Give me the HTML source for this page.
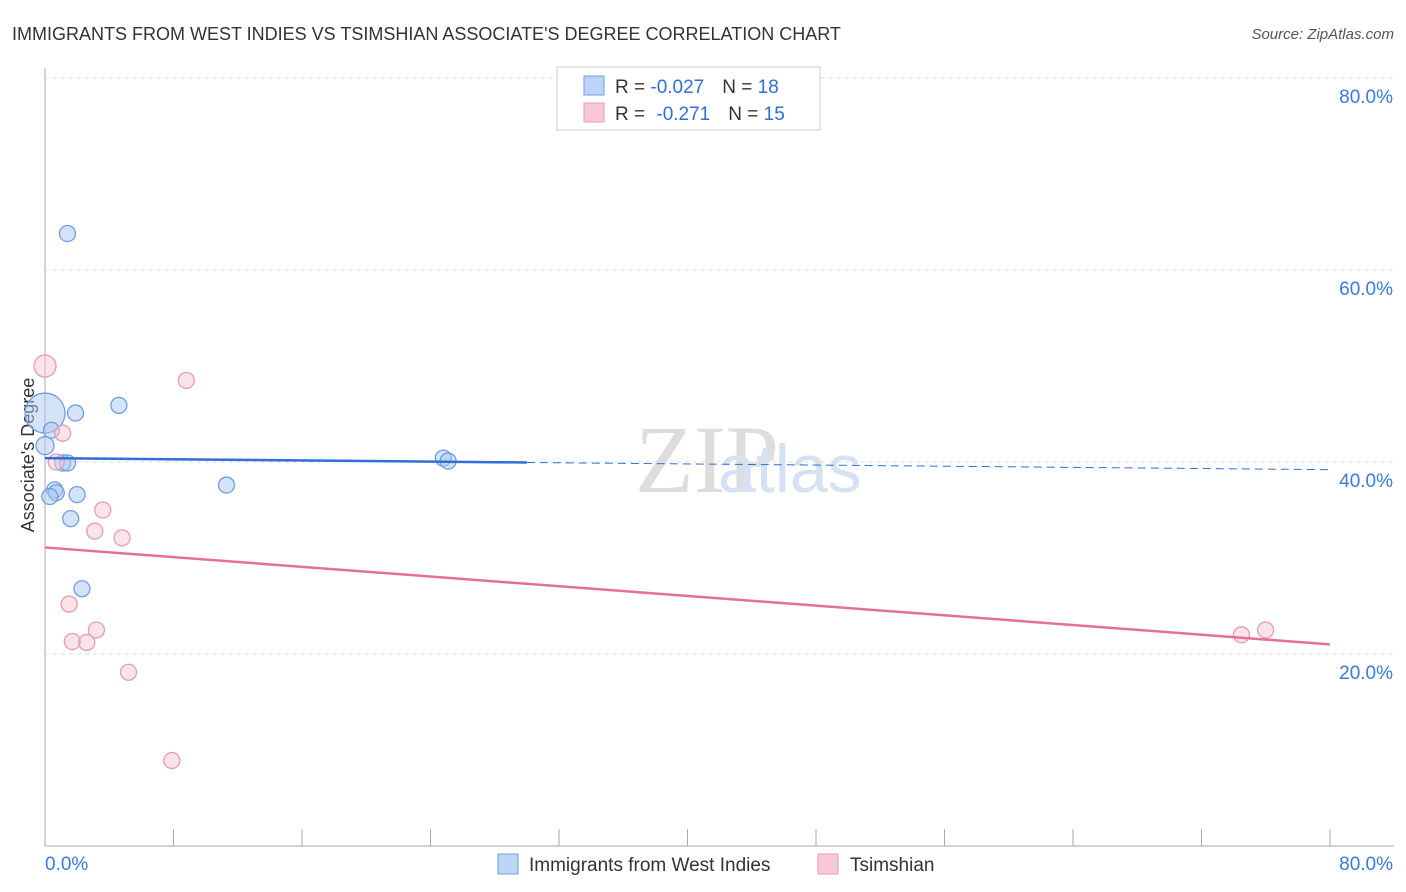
<!DOCTYPE html>
<html><head><meta charset="utf-8"><style>
body{margin:0;background:#fff;font-family:"Liberation Sans",sans-serif}
#wrap{position:relative;width:1406px;height:892px;overflow:hidden}
</style></head><body><div id="wrap">
<svg id="svg" width="1406" height="892" xmlns="http://www.w3.org/2000/svg">
<text x="12" y="40" font-size="18" fill="#333">IMMIGRANTS FROM WEST INDIES VS TSIMSHIAN ASSOCIATE'S DEGREE CORRELATION CHART</text>
<text x="1394" y="39" font-size="15" fill="#555" font-style="italic" text-anchor="end">Source: ZipAtlas.com</text>
<text x="635" y="492" font-size="96" fill="#ddd" font-family="Liberation Serif">ZIP</text>
<text x="718" y="492" font-size="68" fill="#d4e2f4">atlas</text>
<text transform="translate(34,455) rotate(-90)" font-size="18" fill="#333" text-anchor="middle">Associate's Degree</text>
<g id="grid"></g><g id="marks"></g>
<g>
<rect x="557" y="67" width="263" height="63" fill="#fff" stroke="#ccc"/>
<rect x="584" y="76" width="20" height="19" fill="#bcd4f5" stroke="#6f9fe0"/>
<rect x="584" y="103" width="20" height="19" fill="#f8c8d6" stroke="#e89ab2"/>
<text x="615" y="93" font-size="19" fill="#333">R = <tspan fill="#2f6fd6">-0.027</tspan><tspan dx="18">N = </tspan><tspan fill="#2f6fd6">18</tspan></text>
<text x="615" y="120" font-size="19" fill="#333">R = <tspan dx="6" fill="#2f6fd6">-0.271</tspan><tspan dx="18">N = </tspan><tspan fill="#2f6fd6">15</tspan></text>
</g>
<g>
<rect x="498" y="854" width="20" height="20" fill="#bcd4f5" stroke="#6f9fe0"/>
<text x="529" y="871" font-size="19" fill="#333">Immigrants from West Indies</text>
<rect x="818" y="854" width="20" height="20" fill="#f8c8d6" stroke="#e89ab2"/>
<text x="850" y="871" font-size="19" fill="#333">Tsimshian</text>
</g>
</svg></div>
<script>
const yTicks=[20,40,60,80];
const xTickLabels=["0.0%","80.0%"];
const blueX=[1.4,4.6,1.9,0,0.4,0,1.1,1.4,0.6,0.7,0.3,2,1.6,2.3,11.3,24.8,25.1];
const blueY=[63.8,45.9,45.1,45.1,43.3,41.7,39.9,39.9,37.1,36.8,36.4,36.6,34.1,26.8,37.6,40.4,40.1];
const blueR=[8,8,8,20,8,9,8,8,8,8,8,8,8,8,8,8,8];
const pinkX=[0,8.8,1.1,0.7,3.6,3.1,4.8,1.5,1.7,2.6,3.2,5.2,7.9,74.5,76];
const pinkY=[50,48.5,43,40,35,32.8,32.1,25.2,21.3,21.2,22.5,18.1,8.9,22,22.5];
const blueTrend=[40.4,39.2];const pinkTrend=[31.1,21];
const X=v=>45+v*16.06, Y=v=>846-v*9.6;
const NS="http://www.w3.org/2000/svg";
function mk(p,t,a){const e=document.createElementNS(NS,t);for(const k in a)e.setAttribute(k,a[k]);p.appendChild(e);return e;}
const g=document.getElementById('grid'),m=document.getElementById('marks');
mk(g,'line',{x1:45,y1:68,x2:45,y2:846,stroke:'#aaa'});
mk(g,'line',{x1:45,y1:846,x2:1394,y2:846,stroke:'#aaa'});
for(const t of yTicks){
 const l=mk(g,'line',{x1:45,y1:Y(t),x2:1394,y2:Y(t),stroke:'#ddd','stroke-dasharray':'4,4'});
 
 
 const tx=mk(g,'text',{x:1393,y:Y(t)+25,'font-size':19,fill:'#3a7bd5','text-anchor':'end'});tx.textContent=t.toFixed(1)+'%';
 
 
}
for(let i=0;i<=10;i++){const x=45+i*128.5;mk(g,'line',{x1:x,y1:829,x2:x,y2:846,stroke:'#aaa'});}
const xl0=mk(g,'text',{x:45,y:870,'font-size':19,fill:'#3a7bd5'});xl0.textContent=xTickLabels[0];


const xl1=mk(g,'text',{x:1393,y:870,'font-size':19,fill:'#3a7bd5','text-anchor':'end'});xl1.textContent=xTickLabels[1];


blueX.forEach((v,i)=>{const c=mk(m,'circle',{cx:X(v),cy:Y(blueY[i]),r:blueR[i],fill:'rgba(170,200,240,0.5)',stroke:'#6f9fe0','stroke-width':1.3});
 
 });
pinkX.forEach((v,i)=>{const c=mk(m,'circle',{cx:X(v),cy:Y(pinkY[i]),r:i==0?11:8,fill:'rgba(248,200,214,0.5)',stroke:'#e89ab2','stroke-width':1.3});
 
 });
const bm=blueTrend[0]+(blueTrend[1]-blueTrend[0])*30/80;
const b1=mk(m,'line',{x1:X(0),y1:Y(blueTrend[0]),x2:X(30),y2:Y(bm),stroke:'#2f6fd6','stroke-width':2.5});


const b2=mk(m,'line',{x1:X(30),y1:Y(bm),x2:X(80),y2:Y(blueTrend[1]),stroke:'#2f6fd6','stroke-width':1,'stroke-dasharray':'8,5'});


const p1=mk(m,'line',{x1:X(0),y1:Y(pinkTrend[0]),x2:X(80),y2:Y(pinkTrend[1]),stroke:'#e4709a','stroke-width':2.5});


</script></body></html>
